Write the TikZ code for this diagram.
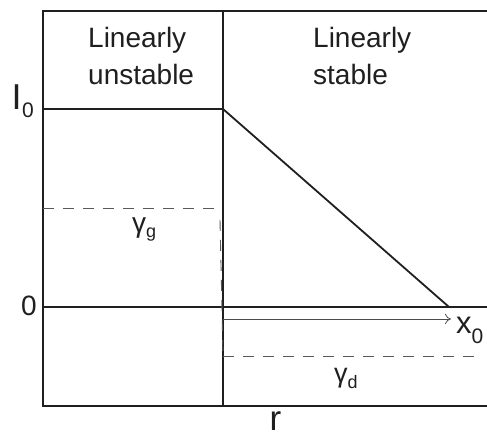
\documentclass[tikz,border=0pt]{standalone}
\usepackage{fontspec}
\setmainfont{Liberation Sans}
\usetikzlibrary{arrows.meta}
\newcommand{\fs}[1]{\fontsize{#1}{#1}\selectfont}
\begin{document}
\begin{tikzpicture}[x=1pt,y=-1pt,
  frame/.style={line width=1.3pt,draw=black!88},
  curve/.style={line width=1.8pt,draw=black!88},
  guide/.style={line width=0.9pt,draw=black!65,dash pattern=on 11pt off 9pt},
  lbl/.style={inner sep=0pt,anchor=base west,text=black!88},
  head/.style={lbl,font=\fs{28}}]
\useasboundingbox (0,0) rectangle (487,438);
% frame
\coordinate (tl) at (43,11);
\coordinate (tr) at (487,11);
\coordinate (bl) at (43,406);
\coordinate (br) at (487,406);
\coordinate (dt) at (223,11);
\coordinate (db) at (223,406);
\draw[frame] (tr) -- (tl) -- (bl) -- (br);
\draw[frame] (dt) -- (db);
% zero line
\coordinate (z0) at (43,307);
\coordinate (z1) at (487,307);
\draw[frame] (z0) -- (z1);
% I0 curve
\coordinate (c0) at (43,109);
\coordinate (c1) at (223,109);
\coordinate (c2) at (449,307);
\coordinate (c3) at (487,307);
\draw[curve] (c0) -- (c1) -- (c2) -- (c3);
% dashed guides
\coordinate (g0) at (43,208);
\coordinate (g1) at (218,208);
\coordinate (v0) at (220,220);
\coordinate (v1) at (223,356);
\coordinate (d0) at (223,356);
\coordinate (d1) at (479,356);
\draw[guide] (g0) -- (g1);
\draw[guide] (v0) -- (v1);
\draw[guide] (d0) -- (d1);
% x0 arrow
\coordinate (a0) at (223,319);
\coordinate (a1) at (451,319);
\draw[line width=0.8pt,draw=black!70,-{To[length=6pt,width=10pt]}] (a0) -- (a1);
% labels
\node[head] (lu1) at (88,48) {Linearly};
\node[head] (lu2) at (88,85) {unstable};
\node[head] (ls1) at (313,48) {Linearly};
\node[head] (ls2) at (313,85) {stable};
\node[lbl] (I0) at (11.5,110) {\fs{36}I\hspace{0.5pt}\raisebox{-8pt}{\fs{21}0}};
\node[lbl] (zero) at (21,315) {\fs{28}0};
\node[lbl] (x0) at (456,333) {\fs{31}x\raisebox{-10pt}{\fs{21}0}};
\node[lbl] (gg) at (132,233) {\fs{28}γ\raisebox{-5pt}{\fs{18}g}};
\node[lbl] (gd) at (334,382) {\fs{27}γ\raisebox{-6pt}{\fs{18}d}};
\node[lbl] (r) at (269.5,430) {\fs{35}r};
\end{tikzpicture}
\end{document}
